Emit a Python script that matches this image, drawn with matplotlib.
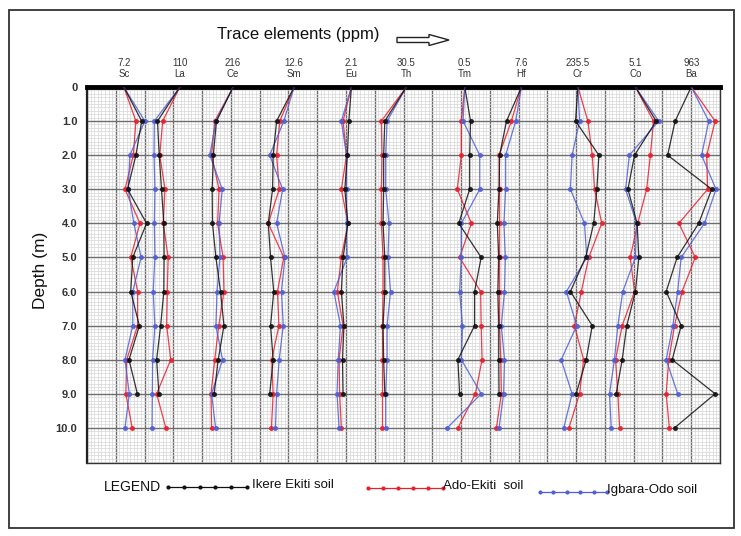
import numpy as np
import matplotlib.pyplot as plt
from matplotlib.lines import Line2D
from matplotlib.patches import FancyArrow, Rectangle

# depth of sampling (m)
depth = [0, 1, 2, 3, 4, 5, 6, 7, 8, 9, 10]

# element columns and the reference value printed above each
elements = ["Sc", "La", "Ce", "Sm", "Eu", "Th", "Tm", "Hf", "Cr", "Co", "Ba"]
ref_values = ["7.2", "110", "216", "12.6", "2.1", "30.5", "0.5", "7.6", "235.5", "5.1", "963"]

# position of each profile at surface (grid cells across the chart)
start = [1.28, 3.23, 5.08, 7.20, 9.19, 11.10, 13.13, 15.10, 17.06, 19.06, 21.00]

# plotted positions (grid cells) at 1..10 m, one row per element
ikere = [
    [1.90, 1.70, 1.41, 2.07, 1.59, 1.52, 1.82, 1.46, 1.75, np.nan],
    [2.45, 2.51, 2.59, 2.67, 2.68, 2.67, 2.56, 2.42, 2.50, np.nan],
    [4.50, 4.39, 4.35, 4.36, 4.48, 4.64, 4.76, 4.56, 4.42, np.nan],
    [6.59, 6.47, 6.45, 6.30, 6.38, 6.49, 6.38, 6.47, 6.35, np.nan],
    [9.10, 9.05, 8.96, 9.07, 8.90, 8.84, 8.93, 8.88, 8.90, np.nan],
    [10.35, 10.31, 10.31, 10.29, 10.35, 10.35, 10.29, 10.31, 10.35, np.nan],
    [13.33, 13.30, 13.30, 12.92, 13.70, 13.47, 13.47, 12.89, 12.95, np.nan],
    [14.58, 14.34, 14.32, 14.26, 14.31, 14.28, 14.31, 14.31, 14.32, np.nan],
    [16.98, 17.79, 17.72, 17.61, 17.33, 16.80, 17.56, 17.35, 17.00, np.nan],
    [19.78, 19.03, 18.80, 19.12, 19.18, 19.06, 18.76, 18.60, 18.39, np.nan],
    [20.44, 20.18, 21.71, 21.26, 20.51, 20.13, 20.65, 20.34, 21.83, 20.42],
]
ado = [
    [1.70, 1.61, 1.32, 1.84, 1.52, 1.76, 1.76, 1.38, 1.35, 1.57],
    [2.63, 2.53, 2.71, 2.65, 2.82, 2.79, 2.77, 2.91, 2.42, 2.74],
    [4.44, 4.33, 4.59, 4.54, 4.73, 4.76, 4.58, 4.44, 4.31, 4.33],
    [6.70, 6.59, 6.68, 6.30, 6.84, 6.62, 6.67, 6.42, 6.47, 6.41],
    [8.90, 9.02, 8.84, 9.07, 8.84, 8.70, 8.90, 8.76, 8.78, 8.84],
    [10.23, 10.25, 10.23, 10.23, 10.29, 10.29, 10.27, 10.27, 10.27, 10.27],
    [13.01, 13.01, 12.87, 13.36, 12.95, 13.68, 13.70, 13.73, 13.50, 12.89],
    [14.75, 14.32, 14.34, 14.34, 14.34, 14.34, 14.34, 14.38, 14.40, 14.23],
    [17.41, 17.56, 17.64, 17.89, 17.44, 17.18, 16.94, 17.26, 17.12, 16.75],
    [19.69, 19.58, 19.45, 19.14, 18.88, 19.03, 18.60, 18.37, 18.45, 18.51],
    [21.83, 21.54, 21.57, 20.57, 21.14, 20.68, 20.42, 20.22, 20.13, 20.24],
]
igbara = [
    [2.01, 1.49, 1.43, 1.63, 1.88, 1.59, 1.59, 1.32, 1.47, 1.32],
    [2.34, 2.33, 2.36, 2.34, 2.36, 2.30, 2.36, 2.28, 2.27, 2.26],
    [4.48, 4.27, 4.70, 4.59, 4.62, 4.52, 4.48, 4.71, 4.33, 4.47],
    [6.84, 6.35, 6.80, 6.59, 6.88, 6.76, 6.82, 6.68, 6.59, 6.55],
    [8.84, 9.02, 9.02, 9.02, 9.04, 8.58, 8.81, 8.73, 8.69, 8.76],
    [10.43, 10.38, 10.38, 10.50, 10.46, 10.55, 10.43, 10.43, 10.38, 10.38],
    [13.07, 13.65, 13.65, 13.01, 13.01, 12.95, 13.05, 13.01, 13.70, 12.52],
    [14.90, 14.55, 14.55, 14.49, 14.54, 14.51, 14.40, 14.51, 14.48, 14.32],
    [17.12, 16.86, 16.80, 17.29, 17.37, 16.66, 17.02, 16.48, 16.86, 16.57],
    [19.87, 18.85, 18.72, 19.10, 19.06, 18.62, 18.45, 18.33, 18.16, 18.22],
    [21.61, 21.36, 21.86, 21.46, 20.65, 20.53, 20.36, 20.13, 20.53, np.nan],
]

BLACK = "#111111"
RED = "#e8202e"
BLUE = "#4f5fd6"

plt.rcParams['font.family'] = ['Liberation Sans', 'DejaVu Sans']
narrow = ['Liberation Sans Narrow', 'Liberation Sans', 'DejaVu Sans']

fig = plt.figure(figsize=(7.41, 5.36), dpi=100)

# outer frame
fig.add_artist(Rectangle((9 / 741, 1 - 528 / 536), 725 / 741, 518 / 536,
                         transform=fig.transFigure, fill=False,
                         edgecolor="#333333", lw=1.3))

ax = fig.add_axes([87 / 741, 1 - 463 / 536, 633 / 741, 376 / 536])
ax.set_xlim(0, 22)
ax.set_ylim(11.03, 0)

# grid paper
ax.set_xticks(np.arange(0, 23, 1))
ax.set_xticks(np.arange(0, 22, 0.125), minor=True)
ax.set_yticks(depth)
ax.set_yticks(np.arange(0, 11.05, 0.1), minor=True)
ax.grid(which="minor", color="#d6d6d6", lw=0.5)
ax.grid(which="major", color="#6e6e6e", lw=1.0)
ax.set_axisbelow(True)
ax.tick_params(which="both", length=0)
ax.set_xticklabels([])
ax.set_yticklabels(["0"] + [f"{d:.1f}" for d in depth[1:]],
                   fontsize=8, color="#333333", fontweight="bold", family=narrow)
ax.tick_params(axis="y", pad=7)
for side in ["right", "bottom"]:
    ax.spines[side].set_color("#333333")
    ax.spines[side].set_linewidth(1.0)
ax.spines["left"].set_color("#222222")
ax.spines["left"].set_linewidth(1.6)
ax.spines["top"].set_color("black")
ax.spines["top"].set_linewidth(3.5)

for i in range(len(elements)):
    for series, col in ((ado, RED), (igbara, BLUE), (ikere, BLACK)):
        xs = [start[i]] + series[i]
        ax.plot(xs, depth, color=col, lw=0.9, alpha=0.85, marker="o", ms=2.6,
                markevery=slice(1, None), zorder=3)
    ax.text(start[i], -0.55, ref_values[i], ha="center", va="bottom",
            fontsize=7, color="#333333", family=narrow, clip_on=False)
    ax.text(start[i], -0.24, elements[i], ha="center", va="bottom",
            fontsize=7, color="#333333", family=narrow, clip_on=False)

# title and arrow
fig.text(298 / 741, 1 - 35 / 536, "Trace elements (ppm)", ha="center", va="center",
         fontsize=12, color="#111111")
fig.add_artist(FancyArrow(3.97, 5.36 - 0.40, 0.52, 0, width=0.05, head_width=0.11,
                          head_length=0.2, length_includes_head=True,
                          transform=fig.dpi_scale_trans, facecolor="white",
                          edgecolor="#222222", lw=1.0))

fig.text(40 / 741, 1 - 270 / 536, "Depth (m)", rotation=90, ha="center", va="center",
         fontsize=12.5, color="#111111")

# hand-drawn legend strip
ly = 1 - 487 / 536
fig.text(104 / 741, ly, "LEGEND", ha="left", va="center", fontsize=10,
         color="#111111", family=narrow)
legend_items = [
    (168, 247, 487, BLACK, "Ikere Ekiti soil", 252),
    (368, 443, 488, RED, "Ado-Ekiti  soil", 443),
    (540, 607, 492, BLUE, "Igbara-Odo soil", 607),
]
for x0, x1, y, col, lab, tx in legend_items:
    xs = np.linspace(x0, x1, 6) / 741
    fig.add_artist(Line2D(xs, [1 - y / 536] * 6, color=col, lw=0.9, marker="o",
                          ms=2, transform=fig.transFigure))
    fig.text(tx / 741, 1 - (y - 2) / 536, lab, ha="left", va="center", fontsize=9.5,
             color="#111111", family=narrow)

fig.savefig("out.png", dpi=100)
